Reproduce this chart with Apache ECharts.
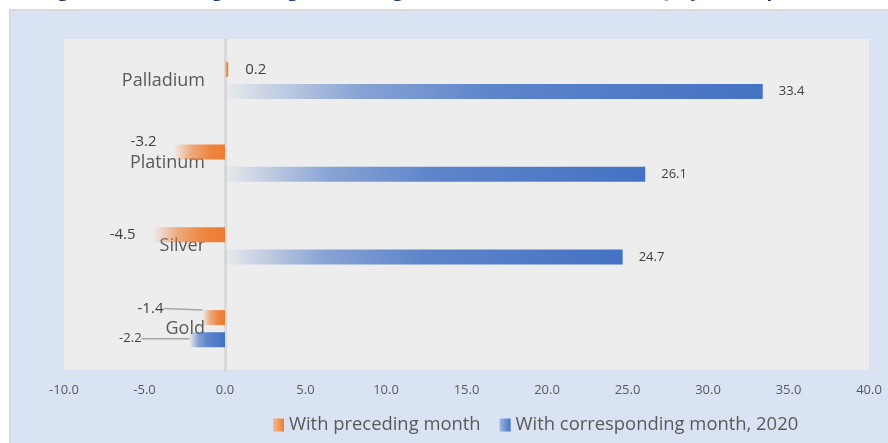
<!DOCTYPE html>
<html>
<head>
<meta charset="utf-8">
<style>
html,body{margin:0;padding:0;background:#ffffff;}
#chart{width:888px;height:443px;}
</style>
<script src="https://cdn.jsdelivr.net/npm/echarts@6/dist/echarts.min.js"></script>
</head>
<body>
<div id="chart"></div>
<script>
// ---- data ----
const categories = ['Gold', 'Silver', 'Platinum', 'Palladium'];
const precedingMonth = [-1.4, -4.5, -3.2, 0.2];
const correspondingMonth = [-2.2, 24.7, 26.1, 33.4];
const seriesNames = ['With preceding month', 'With corresponding month, 2020'];
const titleText = 'Figure 2: Percentage Change in Average Prices of Precious Metals, July, 2021 (percent)';

const FONT = '"Open Sans", "Noto Sans", sans-serif';
const GRID_LEFT = 64;
const chart = echarts.init(document.getElementById('chart'));

const orangeGrad = new echarts.graphic.LinearGradient(0, 0, 1, 0, [
  {offset: 0, color: 'rgba(237,125,49,0)'},
  {offset: 0.35, color: 'rgba(237,125,49,0.6)'},
  {offset: 0.7, color: 'rgba(237,125,49,0.92)'},
  {offset: 1, color: 'rgba(237,125,49,1)'}
]);
const blueGrad = new echarts.graphic.LinearGradient(0, 0, 1, 0, [
  {offset: 0, color: 'rgba(68,114,196,0.03)'},
  {offset: 0.25, color: 'rgba(68,114,196,0.6)'},
  {offset: 0.5, color: 'rgba(68,114,196,0.85)'},
  {offset: 1, color: 'rgba(68,114,196,1)'}
]);
const orangeIcon = new echarts.graphic.LinearGradient(0, 0, 1, 0, [
  {offset: 0, color: '#f6b991'}, {offset: 1, color: '#ed7d31'}
]);
const blueIcon = new echarts.graphic.LinearGradient(0, 0, 1, 0, [
  {offset: 0, color: '#9fb6e1'}, {offset: 1, color: '#4472c4'}
]);

const lineStyle = {color: '#a6a6a6', width: 1.5};

const orangeData = precedingMonth.map((v, i) => {
  const item = {value: v};
  if (i === 0) {
    item.label = {position: 'left', distance: 5, fontSize: 15};
    item.labelLine = {show: true, lineStyle: lineStyle};
  } else if (i === 1 || i === 2) {
    item.label = {position: 'left', distance: 17, fontSize: 15};
  } else {
    item.label = {position: 'right', distance: 17, fontSize: 15};
  }
  return item;
});
const blueData = correspondingMonth.map((v, i) => {
  const item = {value: v};
  if (i === 0) {
    item.label = {position: 'left', distance: 5, fontSize: 13};
    item.labelLine = {show: true, lineStyle: lineStyle};
  } else {
    item.label = {position: 'right', distance: 16, fontSize: 13};
  }
  return item;
});

const option = {
  backgroundColor: '#ffffff',
  animation: false,
  graphic: [
    {type: 'rect', shape: {x: 10, y: 10, width: 890, height: 445}, style: {fill: '#dae3f3', stroke: '#d9d9d9', lineWidth: 2}, z: -10},
    {type: 'text', x: 444, y: 0, style: {text: titleText, fill: '#1f3864', font: 'bold 19px "Open Sans", sans-serif', align: 'center', verticalAlign: 'bottom'}, z: 10}
  ],
  grid: {left: GRID_LEFT, right: 19, top: 39, bottom: 73, containLabel: false, outerBoundsMode: 'none', show: true, backgroundColor: '#ededed', borderWidth: 0},
  legend: {
    left: 268, top: 411,
    itemWidth: 11, itemHeight: 13, itemGap: 19,
    icon: 'rect',
    textStyle: {fontFamily: FONT, fontSize: 18.4, color: '#595959'},
    data: [
      {name: seriesNames[0], itemStyle: {color: orangeIcon}},
      {name: seriesNames[1], itemStyle: {color: blueIcon}}
    ]
  },
  xAxis: {
    type: 'value', min: -10, max: 40, interval: 5,
    splitLine: {show: false},
    axisLine: {show: false}, axisTick: {show: false},
    axisLabel: {formatter: v => v.toFixed(1), fontFamily: FONT, fontSize: 13, color: '#595959', margin: 14}
  },
  yAxis: {
    type: 'category', data: categories,
    axisLine: {show: true, onZero: false, lineStyle: {color: '#d9d9d9', width: 3}},
    axisTick: {show: false},
    axisLabel: {fontFamily: FONT, fontSize: 18, color: '#595959', margin: 20}
  },
  series: [
    {
      name: seriesNames[0], type: 'bar', data: orangeData,
      barWidth: 15, barGap: '47%',
      itemStyle: {color: orangeGrad},
      label: {show: true, formatter: p => p.value.toFixed(1), fontFamily: FONT, color: '#404040'},
      labelLayout: p => (p.dataIndex === 0 ? {dx: -34, dy: -9} : (p.dataIndex === 2 ? {dy: -10} : null))
    },
    {
      name: seriesNames[1], type: 'bar', data: blueData,
      barWidth: 15, barGap: '47%',
      itemStyle: {color: blueGrad},
      label: {show: true, formatter: p => p.value.toFixed(1), fontFamily: FONT, color: '#404040'},
      labelLayout: p => (p.dataIndex === 0 ? {dx: -43, dy: -1} : null)
    }
  ]
};
chart.setOption(option);
// place the category axis (line + labels) at the x = 0 position given by the value scale
const zeroPx = chart.convertToPixel({xAxisIndex: 0}, 0);
chart.setOption({yAxis: {offset: -(zeroPx - GRID_LEFT)}});
</script>
</body>
</html>
